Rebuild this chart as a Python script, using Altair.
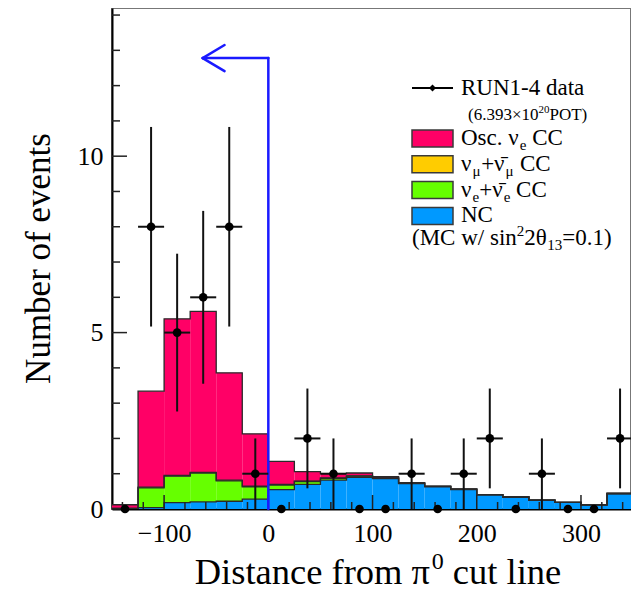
import altair as alt
import pandas as pd
import math

FONT = "Liberation Serif"

# ---------------- data ----------------
bin_lo = list(range(-150, 350, 25))
BIN_W = 25
nc_vals   = [0.01, 0.04, 0.18, 0.20, 0.22, 0.28, 0.55, 0.70, 0.82, 0.90, 0.86, 0.72, 0.63, 0.55, 0.40, 0.34, 0.25, 0.19, 0.12, 0.44]
nue_vals  = [0.01, 0.56, 0.75, 0.82, 0.58, 0.35, 0.13, 0.08, 0.05, 0.03, 0.02, 0.01, 0.01, 0.01, 0.01, 0.00, 0.00, 0.00, 0.00, 0.00]
numu_vals = [0.00, 0.02, 0.02, 0.02, 0.02, 0.02, 0.02, 0.01, 0.01, 0.01, 0.00, 0.00, 0.00, 0.00, 0.00, 0.00, 0.00, 0.00, 0.00, 0.00]
osc_vals  = [0.10, 2.72, 4.44, 4.56, 3.04, 1.48, 0.65, 0.27, 0.12, 0.08, 0.04, 0.02, 0.01, 0.01, 0.00, 0.00, 0.00, 0.00, 0.00, 0.00]
data_counts = [0, 8, 5, 6, 8, 1, 0, 2, 1, 0, 0, 1, 0, 1, 2, 0, 1, 0, 0, 2]

components = ["NC", "nue", "numu", "osc"]
comp_vals = {"NC": nc_vals, "nue": nue_vals, "numu": numu_vals, "osc": osc_vals}
comp_colors = ["#0099FF", "#66FF00", "#FFCC00", "#FF0066"]

# cut line annotation (distance, events)
cut_x0 = [0, 0, -63, -63]
cut_y0 = [0, 12.78, 12.78, 12.78]
cut_x1 = [0, -63, -42, -42]
cut_y1 = [12.78, 12.78, 13.15, 12.41]

y_major = [0, 5, 10]
y_minor = [v for v in range(1, 15) if v % 5 != 0]
x_major = [-100, 0, 100, 200, 300]
x_minor = [v for v in range(-140, 350, 20) if v % 100 != 0]

# ---------------- tables ----------------
rows, lines = [], []
for i, lo in enumerate(bin_lo):
    cum = 0.0
    for c in components:
        v = comp_vals[c][i]
        rows.append({"lo": lo, "hi": lo + BIN_W, "y0": cum, "y1": cum + v, "comp": c})
        cum += v
        lines.append({"x": lo, "top": cum, "comp": c})
for c_idx, c in enumerate(components):
    cum = sum(comp_vals[cc][-1] for cc in components[: c_idx + 1])
    lines.append({"x": bin_lo[-1] + BIN_W, "top": cum, "comp": c})
hist_df = pd.DataFrame(rows)
line_df = pd.DataFrame(lines)

pts = []
for lo, n in zip(bin_lo, data_counts):
    c = lo + BIN_W / 2
    e = math.sqrt(n)
    pts.append({"c": c, "n": n, "lo": lo, "hi": lo + BIN_W, "elo": n - e, "ehi": n + e})
pts_df = pd.DataFrame(pts)
err_df = pts_df[pts_df.n > 0]

cut_df = pd.DataFrame({"x0": cut_x0, "y0": cut_y0, "x1": cut_x1, "y1": cut_y1})

W, H = 519, 501
xscale = alt.Scale(domain=[-150, 348], nice=False, zero=False)
yscale = alt.Scale(domain=[0, 14.2], nice=False, zero=False)
xaxis = alt.Axis(values=x_major, title=None, ticks=False, grid=False,
                 labelFontSize=26, labelPadding=11, labelFlush=False)
yaxis = alt.Axis(values=y_major, title="Number of events", ticks=False, grid=False,
                 labelFontSize=26, titleFontSize=35, labelPadding=9, titleFontWeight="normal",
                 titleX=-63, titleY=250, titleAngle=-90, titleBaseline="alphabetic",
                 titleAlign="center", labelFlush=False)


def X(f):
    return alt.X(f, type="quantitative", scale=xscale, axis=xaxis)


def Y(f):
    return alt.Y(f, type="quantitative", scale=yscale, axis=yaxis)


hist = alt.Chart(hist_df).mark_rect(strokeWidth=0, clip=True).encode(
    x=X("lo"), x2="hi", y=Y("y0"), y2="y1",
    color=alt.Color("comp:N", scale=alt.Scale(domain=components, range=comp_colors), legend=None),
)
outline = alt.Chart(line_df).mark_line(interpolate="step-after", color="#2a2a2a", strokeWidth=1.3, clip=True).encode(
    x=X("x"), y=Y("top"), detail="comp:N"
)
cut = alt.Chart(cut_df).mark_rule(color="#1a1aff", strokeWidth=2.5, strokeCap="round").encode(
    x=X("x0"), y=Y("y0"), x2="x1", y2="y1"
)

ytick_major = alt.Chart(pd.DataFrame({"v": y_major})).mark_rule(color="#222", strokeWidth=1.5).encode(
    y=Y("v"), x=alt.value(0), x2=alt.value(15))
ytick_minor = alt.Chart(pd.DataFrame({"v": y_minor})).mark_rule(color="#222", strokeWidth=1.5).encode(
    y=Y("v"), x=alt.value(0), x2=alt.value(8))
xtick_major = alt.Chart(pd.DataFrame({"v": x_major})).mark_rule(color="#222", strokeWidth=1.5).encode(
    x=X("v"), y=alt.value(H), y2=alt.value(H - 14))
xtick_minor = alt.Chart(pd.DataFrame({"v": x_minor})).mark_rule(color="#222", strokeWidth=1.5).encode(
    x=X("v"), y=alt.value(H), y2=alt.value(H - 7))

verr = alt.Chart(err_df).mark_rule(color="#111", strokeWidth=2).encode(x=X("c"), y=Y("elo"), y2="ehi")
herr = alt.Chart(err_df).mark_rule(color="#111", strokeWidth=2).encode(x=X("lo"), x2="hi", y=Y("n"))
points = alt.Chart(pts_df).mark_circle(color="black", size=75, opacity=1).encode(x=X("c"), y=Y("n"))

# ---------------- legend / rich texts ----------------
WID = {' ': 250, '(': 333, ')': 333, '.': 250, '-': 333, '+': 564, '=': 564, '×': 564, '/': 278,
       'R': 667, 'U': 722, 'N': 722, 'O': 722, 'P': 556, 'T': 611, 'C': 667, 'M': 889, 'D': 722,
       'a': 444, 'c': 444, 'd': 500, 'e': 444, 'i': 278, 'n': 500, 's': 389, 't': 278, 'w': 722,
       'f': 333, 'r': 333, 'o': 500, 'm': 778, 'u': 500, 'l': 278,
       'ν': 500, 'μ': 576, 'θ': 500, 'π': 549, '\u0304': 0}


def tw(s, size):
    return sum(WID.get(ch, 500) for ch in s) * size / 1000.0


ONE = [{"a": 1}]
legend_layers = []


def text_run(x, y, segs):
    for s, size, dy in segs:
        stripped = s.lstrip(" ")
        x += tw(s[: len(s) - len(stripped)], size)
        legend_layers.append(
            alt.Chart(alt.Data(values=[{"t": stripped}])).mark_text(
                font=FONT, fontSize=size, align="left", baseline="alphabetic", color="black"
            ).encode(x=alt.value(x), y=alt.value(y + dy), text="t:N")
        )
        x += tw(stripped, size)


SW_X0, SW_X1, TX = 300, 341, 349
# data entry
legend_layers.append(alt.Chart(alt.Data(values=ONE)).mark_rule(color="black", strokeWidth=2).encode(
    x=alt.value(SW_X0), x2=alt.value(SW_X1), y=alt.value(80)))
legend_layers.append(alt.Chart(alt.Data(values=ONE)).mark_point(
    shape="diamond", filled=True, color="black", size=50, opacity=1).encode(
    x=alt.value((SW_X0 + SW_X1) / 2), y=alt.value(80)))
text_run(TX, 87, [("RUN1-4 data", 23, 0)])
text_run(TX + 7, 112, [("(6.393×10", 17, 0), ("20", 11, -7), ("POT)", 17, 0)])

sw_rows = [
    ("#FF0066", [("Osc. ν", 23, 0), ("e", 15, 5), (" CC", 23, 0)]),
    ("#FFCC00", [("ν", 23, 0), ("μ", 15, 5), ("+ν\u0304", 23, 0), ("μ", 15, 5), (" CC", 23, 0)]),
    ("#66FF00", [("ν", 23, 0), ("e", 15, 5), ("+ν\u0304", 23, 0), ("e", 15, 5), (" CC", 23, 0)]),
    ("#0099FF", [("NC", 23, 0)]),
]
for k, (col, segs) in enumerate(sw_rows):
    top = 122 + k * 25.8
    legend_layers.append(alt.Chart(alt.Data(values=ONE)).mark_rect(
        fill=col, stroke="#3a3a3a", strokeWidth=1.5).encode(
        x=alt.value(SW_X0), x2=alt.value(SW_X1), y=alt.value(top), y2=alt.value(top + 17)))
    text_run(TX, top + 15, segs)
text_run(SW_X0, 237, [("(MC w/ sin", 23, 0), ("2", 15, -9), ("2θ", 23, 0), ("13", 15, 5), ("=0.1)", 23, 0)])

# x axis title with superscript
xt_segs = [("Distance from π", 36.5, 0), ("0", 24, -15), (" cut line", 36.5, 0)]
xt_w = sum(tw(s, sz) for s, sz, _ in xt_segs)
text_run(266 - xt_w / 2, H + 75, xt_segs)

chart = alt.layer(
    hist, outline, ytick_major, ytick_minor, xtick_major, xtick_minor, cut, verr, herr, points,
    *legend_layers
).properties(
    width=W, height=H,
    autosize=alt.AutoSizeParams(type="none"),
    padding={"left": 104, "top": 0, "right": 0, "bottom": 83},
).configure_view(
    stroke="#777777", strokeWidth=2
).configure_axis(
    domainColor="black", domainWidth=2, labelColor="black", titleColor="black",
    labelFont=FONT, titleFont=FONT
)

chart.save("out.html", embed_options={"renderer": "svg", "actions": False})
